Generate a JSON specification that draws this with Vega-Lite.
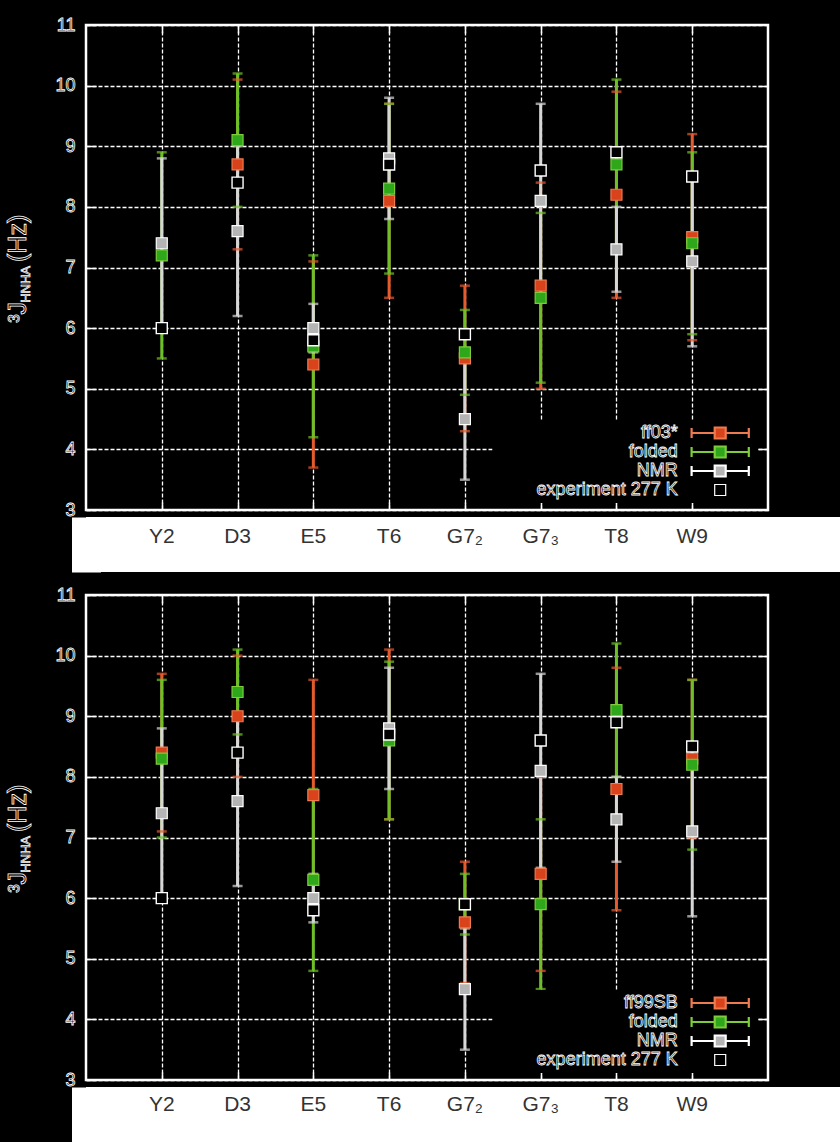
{
  "$schema": "https://vega.github.io/schema/vega-lite/v6.json",
  "background": "black",
  "padding": {"left": 4, "top": 14, "right": 0, "bottom": 0},
  "autosize": {"type": "pad"},
  "bounds": "flush",
  "spacing": 7,
  "resolve": {
    "scale": {"color": "independent", "fill": "independent", "stroke": "independent"},
    "legend": {"color": "independent", "fill": "independent", "stroke": "independent"}
  },
  "datasets": {
    "top": [
      {"res": "D3", "series": "ff03*", "v": 8.7, "lo": 7.3, "hi": 10.1},
      {"res": "E5", "series": "ff03*", "v": 5.4, "lo": 3.7, "hi": 7.1},
      {"res": "T6", "series": "ff03*", "v": 8.1, "lo": 6.5, "hi": 9.7},
      {"res": "G7₂", "series": "ff03*", "v": 5.5, "lo": 4.3, "hi": 6.7},
      {"res": "G7₃", "series": "ff03*", "v": 6.7, "lo": 5.0, "hi": 8.4},
      {"res": "T8", "series": "ff03*", "v": 8.2, "lo": 6.5, "hi": 9.9},
      {"res": "W9", "series": "ff03*", "v": 7.5, "lo": 5.8, "hi": 9.2},
      {"res": "Y2", "series": "folded", "v": 7.2, "lo": 5.5, "hi": 8.9},
      {"res": "D3", "series": "folded", "v": 9.1, "lo": 8.0, "hi": 10.2},
      {"res": "E5", "series": "folded", "v": 5.7, "lo": 4.2, "hi": 7.2},
      {"res": "T6", "series": "folded", "v": 8.3, "lo": 6.9, "hi": 9.7},
      {"res": "G7₂", "series": "folded", "v": 5.6, "lo": 4.9, "hi": 6.3},
      {"res": "G7₃", "series": "folded", "v": 6.5, "lo": 5.1, "hi": 7.9},
      {"res": "T8", "series": "folded", "v": 8.7, "lo": 7.3, "hi": 10.1},
      {"res": "W9", "series": "folded", "v": 7.4, "lo": 5.9, "hi": 8.9},
      {"res": "Y2", "series": "NMR", "v": 7.4, "lo": 6.0, "hi": 8.8},
      {"res": "D3", "series": "NMR", "v": 7.6, "lo": 6.2, "hi": 9.0},
      {"res": "E5", "series": "NMR", "v": 6.0, "lo": 5.6, "hi": 6.4},
      {"res": "T6", "series": "NMR", "v": 8.8, "lo": 7.8, "hi": 9.8},
      {"res": "G7₂", "series": "NMR", "v": 4.5, "lo": 3.5, "hi": 5.5},
      {"res": "G7₃", "series": "NMR", "v": 8.1, "lo": 6.5, "hi": 9.7},
      {"res": "T8", "series": "NMR", "v": 7.3, "lo": 6.6, "hi": 8.0},
      {"res": "W9", "series": "NMR", "v": 7.1, "lo": 5.7, "hi": 8.5}
    ],
    "bottom": [
      {"res": "Y2", "series": "ff99SB", "v": 8.4, "lo": 7.1, "hi": 9.7},
      {"res": "D3", "series": "ff99SB", "v": 9.0, "lo": 8.0, "hi": 10.0},
      {"res": "E5", "series": "ff99SB", "v": 7.7, "lo": 5.8, "hi": 9.6},
      {"res": "T6", "series": "ff99SB", "v": 8.7, "lo": 7.3, "hi": 10.1},
      {"res": "G7₂", "series": "ff99SB", "v": 5.6, "lo": 4.6, "hi": 6.6},
      {"res": "G7₃", "series": "ff99SB", "v": 6.4, "lo": 4.8, "hi": 8.0},
      {"res": "T8", "series": "ff99SB", "v": 7.8, "lo": 5.8, "hi": 9.8},
      {"res": "W9", "series": "ff99SB", "v": 8.3, "lo": 7.0, "hi": 9.6},
      {"res": "Y2", "series": "folded", "v": 8.3, "lo": 7.0, "hi": 9.6},
      {"res": "D3", "series": "folded", "v": 9.4, "lo": 8.7, "hi": 10.1},
      {"res": "E5", "series": "folded", "v": 6.3, "lo": 4.8, "hi": 7.8},
      {"res": "T6", "series": "folded", "v": 8.6, "lo": 7.3, "hi": 9.9},
      {"res": "G7₂", "series": "folded", "v": 5.9, "lo": 5.4, "hi": 6.4},
      {"res": "G7₃", "series": "folded", "v": 5.9, "lo": 4.5, "hi": 7.3},
      {"res": "T8", "series": "folded", "v": 9.1, "lo": 8.0, "hi": 10.2},
      {"res": "W9", "series": "folded", "v": 8.2, "lo": 6.8, "hi": 9.6},
      {"res": "Y2", "series": "NMR", "v": 7.4, "lo": 6.0, "hi": 8.8},
      {"res": "D3", "series": "NMR", "v": 7.6, "lo": 6.2, "hi": 9.0},
      {"res": "E5", "series": "NMR", "v": 6.0, "lo": 5.6, "hi": 6.4},
      {"res": "T6", "series": "NMR", "v": 8.8, "lo": 7.8, "hi": 9.8},
      {"res": "G7₂", "series": "NMR", "v": 4.5, "lo": 3.5, "hi": 5.5},
      {"res": "G7₃", "series": "NMR", "v": 8.1, "lo": 6.5, "hi": 9.7},
      {"res": "T8", "series": "NMR", "v": 7.3, "lo": 6.6, "hi": 8.0},
      {"res": "W9", "series": "NMR", "v": 7.1, "lo": 5.7, "hi": 8.5}
    ],
    "exp": [
      {"res": "Y2", "series": "experiment 277 K", "v": 6.0},
      {"res": "D3", "series": "experiment 277 K", "v": 8.4},
      {"res": "E5", "series": "experiment 277 K", "v": 5.8},
      {"res": "T6", "series": "experiment 277 K", "v": 8.7},
      {"res": "G7₂", "series": "experiment 277 K", "v": 5.9},
      {"res": "G7₃", "series": "experiment 277 K", "v": 8.6},
      {"res": "T8", "series": "experiment 277 K", "v": 8.9},
      {"res": "W9", "series": "experiment 277 K", "v": 8.5}
    ],
    "res": [
      {"label": "Y2"}, {"label": "D3"}, {"label": "E5"}, {"label": "T6"},
      {"label": "G7₂"}, {"label": "G7₃"}, {"label": "T8"}, {"label": "W9"}
    ]
  },
  "vconcat": [
    {
      "width": 682, "height": 485,
      "view": {"fill": "black", "stroke": "white", "strokeWidth": 2.5},
      "layer": [
        {
          "data": {"name": "top"},
          "mark": {"type": "rule", "strokeWidth": 3},
          "encoding": {
            "x": {"field": "res", "type": "nominal", "scale": {"type": "point", "domain": ["Y2","D3","E5","T6","G7₂","G7₃","T8","W9"], "padding": 1},
              "axis": {"orient": "bottom", "labels": false, "title": null, "domain": false, "grid": true, "gridColor": "white", "gridDash": [4, 2], "gridWidth": 1.3, "ticks": true, "tickSize": -8, "tickColor": "white", "tickWidth": 1.5}},
            "y": {"field": "lo", "type": "quantitative", "scale": {"domain": [3, 11], "nice": false, "zero": false},
              "axis": {"orient": "left", "values": [3,4,5,6,7,8,9,10,11], "domain": false, "grid": true, "gridColor": "white", "gridDash": [4, 2], "gridWidth": 1.3, "ticks": true, "tickSize": -10, "tickColor": "white", "tickWidth": 1.5, "labelFont": "Liberation Sans", "labelFontSize": 18, "labelColor": "black", "labelPadding": 21,
                "title": "³J", "titleFont": "Liberation Sans", "titleFontSize": 25, "titleFontWeight": "normal", "titleColor": "black", "titleAngle": 270, "titleX": -60.5, "titleY": 297.3, "titleAlign": "left", "titleBaseline": "alphabetic",
                "encoding": {"labels": {"stroke": {"value": "white"}, "strokeWidth": {"value": 0.8}}, "title": {"stroke": {"value": "white"}, "strokeWidth": {"value": 0.8}}}}},
            "y2": {"field": "hi"},
            "color": {"field": "series", "type": "nominal", "scale": {"domain": ["ff03*", "folded", "NMR"], "range": ["#e65a2e", "#6ec028", "#d6d6d6"]}, "legend": null}
          }
        },
        {
          "data": {"name": "top"},
          "transform": [{"fold": ["lo", "hi"], "as": ["end", "cv"]}],
          "mark": {"type": "tick", "orient": "horizontal", "size": 10, "thickness": 2.5},
          "encoding": {
            "x": {"field": "res", "type": "nominal", "scale": {"type": "point", "domain": ["Y2","D3","E5","T6","G7₂","G7₃","T8","W9"], "padding": 1},
              "axis": {"orient": "top", "labels": false, "title": null, "domain": false, "grid": false, "ticks": true, "tickSize": -8, "tickColor": "white", "tickWidth": 1.5}},
            "y": {"field": "cv", "type": "quantitative", "scale": {"domain": [3, 11], "nice": false, "zero": false},
              "axis": {"orient": "right", "values": [4,5,6,7,8,9,10], "labels": false, "title": null, "domain": false, "grid": false, "ticks": true, "tickSize": -10, "tickColor": "white", "tickWidth": 1.5}},
            "color": {"field": "series", "type": "nominal", "scale": {"domain": ["ff03*", "folded", "NMR"], "range": ["#e65a2e", "#6ec028", "#d6d6d6"]}, "legend": null}
          }
        },
        {
          "data": {"name": "top"},
          "mark": {"type": "point", "shape": "square", "filled": true, "size": 121, "strokeWidth": 1.2, "opacity": 1},
          "encoding": {
            "x": {"field": "res", "type": "nominal", "scale": {"type": "point", "domain": ["Y2","D3","E5","T6","G7₂","G7₃","T8","W9"], "padding": 1}, "axis": null},
            "y": {"field": "v", "type": "quantitative", "scale": {"domain": [3, 11], "nice": false, "zero": false},
              "axis": {"orient": "left", "labels": false, "ticks": false, "domain": false, "grid": false,
                "title": "HNHA", "titleFont": "Liberation Sans", "titleFontSize": 13, "titleFontWeight": "normal", "titleColor": "black", "titleAngle": 270, "titleX": -57, "titleY": 277.3, "titleAlign": "left", "titleBaseline": "alphabetic",
                "encoding": {"title": {"stroke": {"value": "white"}, "strokeWidth": {"value": 0.7}}}}},
            "fill": {"field": "series", "type": "nominal", "scale": {"domain": ["ff03*", "folded", "NMR", "experiment 277 K"], "range": ["#d8431b", "#2ea81a", "#b4b4b4", "#000000"]},
              "legend": {"orient": "none", "legendX": 406.5, "legendY": 395, "padding": 4, "fillColor": "black", "title": null, "labelFont": "Liberation Sans", "labelFontSize": 18, "labelColor": "black", "labelAlign": "right", "labelOffset": -51.5, "symbolOffset": 214.7, "labelLimit": 400, "rowPadding": -1, "symbolSize": 121, "symbolStrokeWidth": 2.2, "zindex": 1,
                "encoding": {"labels": {"stroke": {"value": "white"}, "strokeWidth": {"value": 0.8}}, "symbols": {"shape": {"value": {"expr": "datum.value === 'experiment 277 K' ? 'square' : 'M-5.2,-0.9L-5.2,0.9M-5.2,0L-1,0M1,0L5.2,0M5.2,-0.9L5.2,0.9M-1,-1L1,-1L1,1L-1,1Z'"}}, "strokeWidth": {"value": {"expr": "datum.value === 'experiment 277 K' ? 1.2 : 2.2"}}}}}},
            "stroke": {"field": "series", "type": "nominal", "scale": {"domain": ["ff03*", "folded", "NMR", "experiment 277 K"], "range": ["#ee7a50", "#7ccc3c", "#ffffff", "#ffffff"]},
              "legend": {"orient": "none", "legendX": 406.5, "legendY": 395, "padding": 4, "fillColor": "black", "title": null, "labelFont": "Liberation Sans", "labelFontSize": 18, "labelColor": "black", "labelAlign": "right", "labelOffset": -51.5, "symbolOffset": 214.7, "labelLimit": 400, "rowPadding": -1, "symbolSize": 121, "symbolStrokeWidth": 2.2, "zindex": 1,
                "encoding": {"labels": {"stroke": {"value": "white"}, "strokeWidth": {"value": 0.8}}, "symbols": {"shape": {"value": {"expr": "datum.value === 'experiment 277 K' ? 'square' : 'M-5.2,-0.9L-5.2,0.9M-5.2,0L-1,0M1,0L5.2,0M5.2,-0.9L5.2,0.9M-1,-1L1,-1L1,1L-1,1Z'"}}, "strokeWidth": {"value": {"expr": "datum.value === 'experiment 277 K' ? 1.2 : 2.2"}}}}}}
          }
        },
        {
          "data": {"name": "exp"},
          "mark": {"type": "point", "shape": "square", "filled": true, "size": 121, "strokeWidth": 1.4, "opacity": 1},
          "encoding": {
            "x": {"field": "res", "type": "nominal", "scale": {"type": "point", "domain": ["Y2","D3","E5","T6","G7₂","G7₃","T8","W9"], "padding": 1}, "axis": null},
            "y": {"field": "v", "type": "quantitative", "scale": {"domain": [3, 11], "nice": false, "zero": false},
              "axis": {"orient": "left", "labels": false, "ticks": false, "domain": false, "grid": false,
                "title": "(Hz)", "titleFont": "Liberation Sans", "titleFontSize": 25, "titleFontWeight": "normal", "titleColor": "black", "titleAngle": 270, "titleX": -60.5, "titleY": 236.5, "titleAlign": "left", "titleBaseline": "alphabetic",
                "encoding": {"title": {"stroke": {"value": "white"}, "strokeWidth": {"value": 0.8}}}}},
            "fill": {"field": "series", "type": "nominal"},
            "stroke": {"field": "series", "type": "nominal"}
          }
        }
      ],
      "resolve": {"axis": {"x": "independent", "y": "independent"}}
    },
    {
      "width": 756, "height": 55,
      "view": {"fill": "white", "stroke": null},
      "data": {"name": "res"},
      "mark": {"type": "text", "font": "Liberation Sans", "fontSize": 21, "color": "#333333", "baseline": "alphabetic", "dy": -2},
      "encoding": {
        "x": {"field": "label", "type": "nominal", "scale": {"type": "point", "domain": ["Y2","D3","E5","T6","G7₂","G7₃","T8","W9"], "range": [0, 682], "padding": 1}, "axis": null},
        "y": {"datum": 0, "type": "quantitative", "scale": {"domain": [-1, 1]}, "axis": {"orient": "left", "domain": true, "domainColor": "white", "domainWidth": 29, "domainCap": "butt", "labels": false, "ticks": false, "grid": false, "title": null}},
        "text": {"field": "label"}
      }
    },
    {
      "width": 10, "height": 9,
      "view": {"stroke": null},
      "data": {"values": [{}]},
      "mark": {"type": "text", "text": ""},
      "encoding": {}
    },
    {
      "width": 682, "height": 485,
      "view": {"fill": "black", "stroke": "white", "strokeWidth": 2.5},
      "layer": [
        {
          "data": {"name": "bottom"},
          "mark": {"type": "rule", "strokeWidth": 3},
          "encoding": {
            "x": {"field": "res", "type": "nominal", "scale": {"type": "point", "domain": ["Y2","D3","E5","T6","G7₂","G7₃","T8","W9"], "padding": 1},
              "axis": {"orient": "bottom", "labels": false, "title": null, "domain": false, "grid": true, "gridColor": "white", "gridDash": [4, 2], "gridWidth": 1.3, "ticks": true, "tickSize": -8, "tickColor": "white", "tickWidth": 1.5}},
            "y": {"field": "lo", "type": "quantitative", "scale": {"domain": [3, 11], "nice": false, "zero": false},
              "axis": {"orient": "left", "values": [3,4,5,6,7,8,9,10,11], "domain": false, "grid": true, "gridColor": "white", "gridDash": [4, 2], "gridWidth": 1.3, "ticks": true, "tickSize": -10, "tickColor": "white", "tickWidth": 1.5, "labelFont": "Liberation Sans", "labelFontSize": 18, "labelColor": "black", "labelPadding": 21,
                "title": "³J", "titleFont": "Liberation Sans", "titleFontSize": 25, "titleFontWeight": "normal", "titleColor": "black", "titleAngle": 270, "titleX": -60.5, "titleY": 297.3, "titleAlign": "left", "titleBaseline": "alphabetic",
                "encoding": {"labels": {"stroke": {"value": "white"}, "strokeWidth": {"value": 0.8}}, "title": {"stroke": {"value": "white"}, "strokeWidth": {"value": 0.8}}}}},
            "y2": {"field": "hi"},
            "color": {"field": "series", "type": "nominal", "scale": {"domain": ["ff99SB", "folded", "NMR"], "range": ["#e65a2e", "#6ec028", "#d6d6d6"]}, "legend": null}
          }
        },
        {
          "data": {"name": "bottom"},
          "transform": [{"fold": ["lo", "hi"], "as": ["end", "cv"]}],
          "mark": {"type": "tick", "orient": "horizontal", "size": 10, "thickness": 2.5},
          "encoding": {
            "x": {"field": "res", "type": "nominal", "scale": {"type": "point", "domain": ["Y2","D3","E5","T6","G7₂","G7₃","T8","W9"], "padding": 1},
              "axis": {"orient": "top", "labels": false, "title": null, "domain": false, "grid": false, "ticks": true, "tickSize": -8, "tickColor": "white", "tickWidth": 1.5}},
            "y": {"field": "cv", "type": "quantitative", "scale": {"domain": [3, 11], "nice": false, "zero": false},
              "axis": {"orient": "right", "values": [4,5,6,7,8,9,10], "labels": false, "title": null, "domain": false, "grid": false, "ticks": true, "tickSize": -10, "tickColor": "white", "tickWidth": 1.5}},
            "color": {"field": "series", "type": "nominal", "scale": {"domain": ["ff99SB", "folded", "NMR"], "range": ["#e65a2e", "#6ec028", "#d6d6d6"]}, "legend": null}
          }
        },
        {
          "data": {"name": "bottom"},
          "mark": {"type": "point", "shape": "square", "filled": true, "size": 121, "strokeWidth": 1.2, "opacity": 1},
          "encoding": {
            "x": {"field": "res", "type": "nominal", "scale": {"type": "point", "domain": ["Y2","D3","E5","T6","G7₂","G7₃","T8","W9"], "padding": 1}, "axis": null},
            "y": {"field": "v", "type": "quantitative", "scale": {"domain": [3, 11], "nice": false, "zero": false},
              "axis": {"orient": "left", "labels": false, "ticks": false, "domain": false, "grid": false,
                "title": "HNHA", "titleFont": "Liberation Sans", "titleFontSize": 13, "titleFontWeight": "normal", "titleColor": "black", "titleAngle": 270, "titleX": -57, "titleY": 277.3, "titleAlign": "left", "titleBaseline": "alphabetic",
                "encoding": {"title": {"stroke": {"value": "white"}, "strokeWidth": {"value": 0.7}}}}},
            "fill": {"field": "series", "type": "nominal", "scale": {"domain": ["ff99SB", "folded", "NMR", "experiment 277 K"], "range": ["#d8431b", "#2ea81a", "#b4b4b4", "#000000"]},
              "legend": {"orient": "none", "legendX": 406.5, "legendY": 395, "padding": 4, "fillColor": "black", "title": null, "labelFont": "Liberation Sans", "labelFontSize": 18, "labelColor": "black", "labelAlign": "right", "labelOffset": -51.5, "symbolOffset": 214.7, "labelLimit": 400, "rowPadding": -1, "symbolSize": 121, "symbolStrokeWidth": 2.2, "zindex": 1,
                "encoding": {"labels": {"stroke": {"value": "white"}, "strokeWidth": {"value": 0.8}}, "symbols": {"shape": {"value": {"expr": "datum.value === 'experiment 277 K' ? 'square' : 'M-5.2,-0.9L-5.2,0.9M-5.2,0L-1,0M1,0L5.2,0M5.2,-0.9L5.2,0.9M-1,-1L1,-1L1,1L-1,1Z'"}}, "strokeWidth": {"value": {"expr": "datum.value === 'experiment 277 K' ? 1.2 : 2.2"}}}}}},
            "stroke": {"field": "series", "type": "nominal", "scale": {"domain": ["ff99SB", "folded", "NMR", "experiment 277 K"], "range": ["#ee7a50", "#7ccc3c", "#ffffff", "#ffffff"]},
              "legend": {"orient": "none", "legendX": 406.5, "legendY": 395, "padding": 4, "fillColor": "black", "title": null, "labelFont": "Liberation Sans", "labelFontSize": 18, "labelColor": "black", "labelAlign": "right", "labelOffset": -51.5, "symbolOffset": 214.7, "labelLimit": 400, "rowPadding": -1, "symbolSize": 121, "symbolStrokeWidth": 2.2, "zindex": 1,
                "encoding": {"labels": {"stroke": {"value": "white"}, "strokeWidth": {"value": 0.8}}, "symbols": {"shape": {"value": {"expr": "datum.value === 'experiment 277 K' ? 'square' : 'M-5.2,-0.9L-5.2,0.9M-5.2,0L-1,0M1,0L5.2,0M5.2,-0.9L5.2,0.9M-1,-1L1,-1L1,1L-1,1Z'"}}, "strokeWidth": {"value": {"expr": "datum.value === 'experiment 277 K' ? 1.2 : 2.2"}}}}}}
          }
        },
        {
          "data": {"name": "exp"},
          "mark": {"type": "point", "shape": "square", "filled": true, "size": 121, "strokeWidth": 1.4, "opacity": 1},
          "encoding": {
            "x": {"field": "res", "type": "nominal", "scale": {"type": "point", "domain": ["Y2","D3","E5","T6","G7₂","G7₃","T8","W9"], "padding": 1}, "axis": null},
            "y": {"field": "v", "type": "quantitative", "scale": {"domain": [3, 11], "nice": false, "zero": false},
              "axis": {"orient": "left", "labels": false, "ticks": false, "domain": false, "grid": false,
                "title": "(Hz)", "titleFont": "Liberation Sans", "titleFontSize": 25, "titleFontWeight": "normal", "titleColor": "black", "titleAngle": 270, "titleX": -60.5, "titleY": 236.5, "titleAlign": "left", "titleBaseline": "alphabetic",
                "encoding": {"title": {"stroke": {"value": "white"}, "strokeWidth": {"value": 0.8}}}}},
            "fill": {"field": "series", "type": "nominal"},
            "stroke": {"field": "series", "type": "nominal"}
          }
        }
      ],
      "resolve": {"axis": {"x": "independent", "y": "independent"}}
    },
    {
      "width": 756, "height": 55,
      "view": {"fill": "white", "stroke": null},
      "data": {"name": "res"},
      "mark": {"type": "text", "font": "Liberation Sans", "fontSize": 21, "color": "#333333", "baseline": "alphabetic", "dy": -4},
      "encoding": {
        "x": {"field": "label", "type": "nominal", "scale": {"type": "point", "domain": ["Y2","D3","E5","T6","G7₂","G7₃","T8","W9"], "range": [0, 682], "padding": 1}, "axis": null},
        "y": {"datum": 0, "type": "quantitative", "scale": {"domain": [-1, 1]}, "axis": {"orient": "left", "domain": true, "domainColor": "white", "domainWidth": 29, "domainCap": "butt", "labels": false, "ticks": false, "grid": false, "title": null}},
        "text": {"field": "label"}
      }
    }
  ],
  "config": {
    "view": {"stroke": null},
    "axis": {"labelFont": "Liberation Sans", "titleFont": "Liberation Sans"}
  }
}
